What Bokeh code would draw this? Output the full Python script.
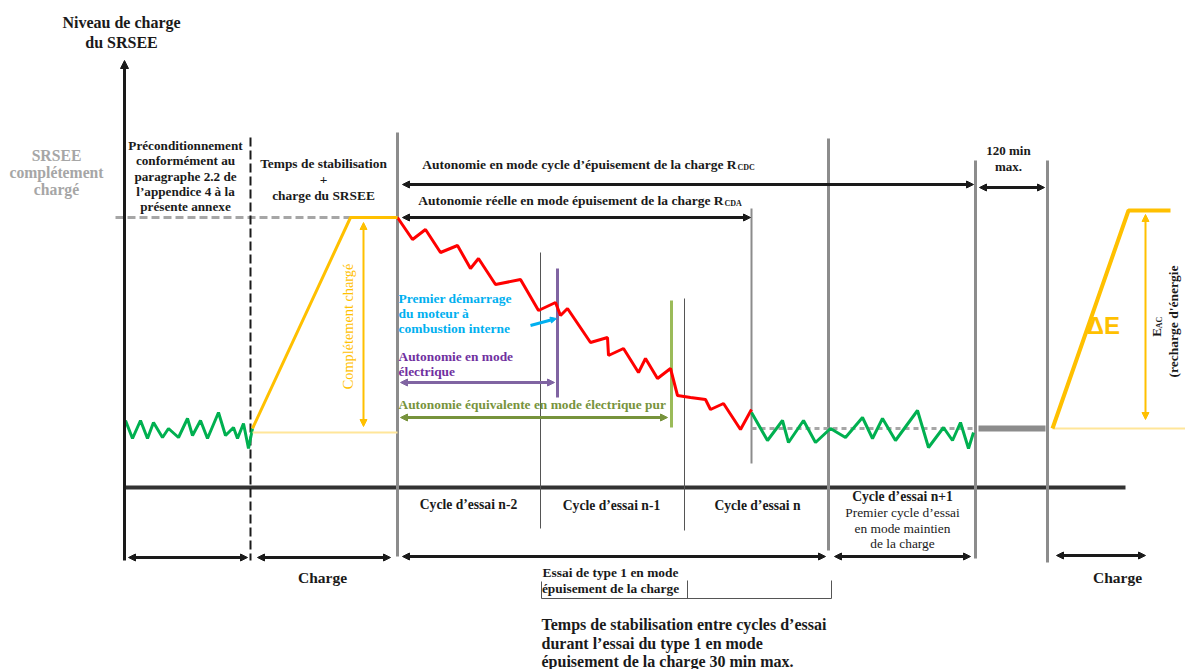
import math
from bokeh.plotting import figure
from bokeh.models import Range1d, Arrow, NormalHead
from bokeh.core.properties import value
from bokeh.embed import file_html
from bokeh.resources import INLINE

# ---------------- data (diagram coordinates, image pixels) ----------------
# phase boundaries on the time axis
t_axis = 124
t_precond_end = 250
t_charge_end = 397
t_cycle_n1 = 540
t_cycle_n = 684
t_cycle_cs = 828
t_cs_end = 975
t_soak_end = 1047
t_cda = 751
t_ice = 557
t_eaer = 671

# charge levels
lvl_full = 217
lvl_cs = 428
lvl_low = 432
lvl_full_right = 210

# pre-conditioning charge-sustaining trace (green)
pre_x = [125, 132, 140, 147, 153, 162, 168, 178, 187, 192, 200, 207, 218, 225, 233, 237, 243, 248, 252]
pre_y = [420, 438, 420, 438, 422, 437, 428, 437, 418, 435, 420, 438, 412, 435, 427, 438, 423, 448, 428]

# charge-depleting trace (red)
cd_x = [397, 412, 425, 440, 457, 470, 478, 495, 520, 538, 555, 560, 567, 590, 607, 608, 623,
        638, 645, 657, 670, 677, 690, 705, 710, 723, 740, 751]
cd_y = [217, 239, 229, 252, 245, 268, 258, 284, 279, 310, 302, 315, 308, 342, 337, 355, 348,
        372, 358, 378, 368, 395, 397, 399, 409, 403, 429, 409]

# charge-sustaining trace (green)
cs_x = [751, 767, 782, 788, 803, 815, 830, 845, 862, 872, 882, 895, 917, 928, 943, 952, 960, 968, 973]
cs_y = [412, 440, 420, 442, 420, 442, 428, 437, 417, 438, 418, 440, 410, 447, 427, 440, 422, 448, 432]

# ---------------- figure ----------------
W, H = 1185, 669
p = figure(width=W, height=H, x_range=Range1d(0, W), y_range=Range1d(H, 0),
           output_backend="svg", toolbar_location=None,
           x_axis_location=None, y_axis_location=None, min_border=0)
p.xgrid.visible = False
p.ygrid.visible = False
p.outline_line_color = None

SERIF = value("Liberation Serif")
SANS = value("Liberation Sans")

YEL = "#FFC000"
LYEL = "#FFE699"
GRN = "#00B050"
RED = "#FF0000"
BLUE = "#00B0F0"
PURT = "#7030A0"
PURL = "#8064A2"
OLV = "#77933C"
GRY = "#8C8C8C"
BLK = "#1A1A1A"


def seg(x0, y0, x1, y1, color=BLK, w=1, dash="solid", alpha=1.0):
    p.line([x0, x1], [y0, y1], line_color=color, line_width=w, line_dash=dash, line_alpha=alpha)


def txt(x, y, s, size=13, color=BLK, align="center", bold=True, font=SERIF, angle=0.0, baseline="middle"):
    p.text(x=[x], y=[y], text=[s], text_font=font, text_font_size=f"{size}px",
           text_font_style="bold" if bold else "normal", text_color=color,
           text_align=align, text_baseline=baseline, angle=angle)


def arr(x0, y0, x1, y1, color=BLK, w=3, both=True, hs=7):
    p.add_layout(Arrow(
        start=NormalHead(size=hs, fill_color=color, line_color=color) if both else None,
        end=NormalHead(size=hs, fill_color=color, line_color=color),
        x_start=x0, y_start=y0, x_end=x1, y_end=y1, line_color=color, line_width=w))


# ---------------- axes ----------------
arr(t_axis, 560, t_axis, 60, color=BLK, w=3, both=False, hs=8)
seg(t_axis, 487, 1125, 487, color="#333333", w=4)

# full-charge dashed reference
seg(115, lvl_full, 350, lvl_full, color="#A6A6A6", w=3, dash="8 4")
# end of pre-conditioning (dashed black)
seg(t_precond_end, 137, t_precond_end, 560, color=BLK, w=2, dash="9 4")

# grey phase boundaries
seg(t_charge_end, 132, t_charge_end, 556, color=GRY, w=3)
seg(t_cycle_cs, 138, t_cycle_cs, 550, color=GRY, w=3)
seg(t_cs_end, 160, t_cs_end, 558, color=GRY, w=3)
seg(t_soak_end, 160, t_soak_end, 562, color=GRY, w=3)
seg(t_cda, 208, t_cda, 463, color=GRY, w=2)
# thin cycle boundaries
seg(t_cycle_n1, 252, t_cycle_n1, 528, color="#555555", w=1)
seg(t_cycle_n, 298, t_cycle_n, 530, color="#555555", w=1)
# ICE start / EAER
seg(t_ice, 268, t_ice, 397, color=PURL, w=3)
seg(t_eaer, 300, t_eaer, 427, color="#9BBB59", w=3)

# ---------------- charge traces ----------------
p.line(pre_x, pre_y, line_color=GRN, line_width=3)
p.line(cd_x, cd_y, line_color=RED, line_width=3)
seg(t_cda, lvl_cs, t_cs_end, lvl_cs, color="#A6A6A6", w=3, dash="5 4")
p.line(cs_x, cs_y, line_color=GRN, line_width=3)

# left charging ramp
p.line([252, 350, t_charge_end], [lvl_cs, lvl_full, lvl_full], line_color=YEL, line_width=3)
seg(252, lvl_low, t_charge_end, lvl_low, color=LYEL, w=2)
arr(363, 222, 363, 426, color=YEL, w=2, hs=7)
txt(347, 326, "Complétement chargé", size=14.3, color=YEL, bold=False, angle=math.pi / 2)

# soak + right recharge
seg(978, lvl_cs, 1045, lvl_cs, color=GRY, w=6)
seg(1052, lvl_cs, 1185, lvl_cs, color=LYEL, w=2)
p.line([1052, 1128, 1170], [lvl_cs, lvl_full_right, lvl_full_right], line_color=YEL, line_width=4)
arr(1145, 214, 1145, 419, color=YEL, w=2, hs=7)
txt(1103, 325, "ΔE", size=24, color=YEL, bold=True, font=SANS)
txt(1156, 332, "E", size=13, color=BLK, angle=math.pi / 2)
txt(1159, 322, "AC", size=8, color=BLK, angle=math.pi / 2)
txt(1173, 321, "(recharge d'énergie", size=13.5, color=BLK, angle=math.pi / 2)

# ---------------- texts ----------------
txt(121, 22, "Niveau de charge", size=16)
txt(121, 42, "du SRSEE", size=16)
txt(56, 155, "SRSEE", size=15.7, color="#A6A6A6")
txt(56, 172, "complétement", size=15.7, color="#A6A6A6")
txt(56, 189, "chargé", size=15.7, color="#A6A6A6")

for i, s in enumerate(["Préconditionnement", "conformément au", "paragraphe 2.2 de",
                       "l\u2019appendice 4 à la", "présente annexe"]):
    txt(185, 145 + i * 15.3, s, size=13.2)

txt(323, 163, "Temps de stabilisation", size=13.4)
txt(323, 179, "+", size=13.4)
txt(323, 195, "charge du SRSEE", size=13.4)

# range arrows top
txt(736, 164, "Autonomie en mode cycle d\u2019épuisement de la charge R", size=13.5, align="right")
txt(737, 167, "CDC", size=8, align="left")
arr(402, 184, 973, 184, w=3)
txt(723, 200, "Autonomie réelle en mode épuisement de la charge R", size=13.5, align="right")
txt(724, 203, "CDA", size=8, align="left")
arr(402, 217, 750, 217, w=3)

txt(1008, 150, "120 min", size=13)
txt(1008, 166, "max.", size=13)
arr(979, 187, 1044, 187, w=3)

# electric range annotations
txt(398, 298, "Premier démarrage", size=13.5, color=BLUE, align="left")
txt(398, 313, "du moteur à", size=13.5, color=BLUE, align="left")
txt(398, 328, "combustion interne", size=13.5, color=BLUE, align="left")
arr(530, 325, 556, 318, color=BLUE, w=3, both=False, hs=6)

txt(398, 356, "Autonomie en mode", size=13.4, color=PURT, align="left")
txt(398, 371, "électrique", size=13.4, color=PURT, align="left")
arr(400, 382, 554, 382, color=PURL, w=3, hs=7)

txt(398, 404, "Autonomie équivalente en mode électrique pur", size=13.4, color=OLV, align="left")
arr(400, 417, 667, 417, color=OLV, w=3, hs=7)

# cycle labels
txt(468, 504, "Cycle d\u2019essai n-2", size=13.6)
txt(611, 505, "Cycle d\u2019essai n-1", size=13.6)
txt(757, 505, "Cycle d\u2019essai n", size=13.6)
txt(902, 496, "Cycle d\u2019essai n+1", size=13.6)
txt(902, 512, "Premier cycle d\u2019essai", size=13.4, bold=False)
txt(902, 528, "en mode maintien", size=13.4, bold=False)
txt(902, 543, "de la charge", size=13.4, bold=False)

# bottom phase arrows
arr(128, 557, 247, 557, w=3)
arr(257, 557, 390, 557, w=3)
arr(402, 556, 825, 556, w=3)
arr(834, 556, 970, 556, w=3)
arr(1056, 555, 1145, 555, w=3)
txt(322, 577, "Charge", size=15.5)
txt(1117, 577, "Charge", size=15.5)

txt(610, 572, "Essai de type 1 en mode", size=13.4)
txt(610, 588, "épuisement de la charge", size=13.4)
seg(541, 581, 541, 598, color="#555555", w=1)
seg(541, 598, 831, 598, color="#555555", w=1)
seg(687, 580, 687, 598, color="#555555", w=1)
seg(831, 580, 831, 598, color="#555555", w=1)

txt(541, 624, "Temps de stabilisation entre cycles d\u2019essai", size=16, align="left")
txt(541, 643, "durant l\u2019essai du type 1 en mode", size=16, align="left")
txt(541, 661, "épuisement de la charge 30 min max.", size=16, align="left")

open("out.html", "w").write(file_html(p, INLINE))
